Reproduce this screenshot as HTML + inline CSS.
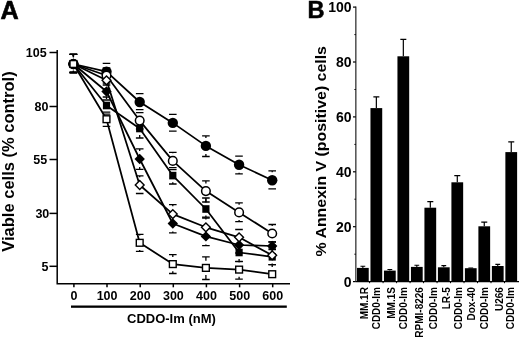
<!DOCTYPE html>
<html><head><meta charset="utf-8"><style>
html,body{margin:0;padding:0;background:#fff;}
body{width:520px;height:340px;overflow:hidden;}
svg{display:block;will-change:transform;filter:blur(0.3px);}
text{font-family:"Liberation Sans", sans-serif;font-weight:bold;fill:#000;}
</style></head><body>
<svg width="520" height="340" viewBox="0 0 520 340">
<g stroke="#000" fill="none">
<path d="M69.6 54.4h7.6M73.4 54.4V56.0M69.6 72.5h7.6M73.4 72.0V72.5" stroke-width="1.3"/>
<path d="M102.7 63.4h7.6M106.5 63.4V63.7M102.7 80.0h7.6" stroke-width="1.3"/>
<path d="M135.9 93.6h7.6M139.7 93.6V94.0M135.9 109.7h7.6" stroke-width="1.3"/>
<path d="M169.0 114.4h7.6M172.8 114.4V114.9M169.0 131.1h7.6" stroke-width="1.3"/>
<path d="M202.1 135.8h7.6M205.9 135.8V137.9M202.1 156.5h7.6M205.9 153.9V156.5" stroke-width="1.3"/>
<path d="M235.2 156.2h7.6M239.1 156.2V156.7M235.2 173.8h7.6M239.1 172.7V173.8" stroke-width="1.3"/>
<path d="M268.4 170.9h7.6M272.2 170.9V172.2M268.4 188.8h7.6M272.2 188.2V188.8" stroke-width="1.3"/>
<path d="M69.6 54.4h7.6M73.4 54.4V57.4M69.6 72.5h7.6M73.4 70.6V72.5" stroke-width="1.3"/>
<path d="M102.7 97.0h7.6M106.5 97.0V98.9M102.7 112.1h7.6" stroke-width="1.3"/>
<path d="M135.9 120.0h7.6M139.7 120.0V121.9M135.9 138.0h7.6M139.7 135.1V138.0" stroke-width="1.3"/>
<path d="M169.0 169.7h7.6M169.0 184.0h7.6M172.8 182.2V184.0" stroke-width="1.3"/>
<path d="M202.1 198.0h7.6M205.9 198.0V202.4M202.1 217.1h7.6M205.9 215.6V217.1" stroke-width="1.3"/>
<path d="M235.2 245.0h7.6M239.1 245.0V245.9M235.2 261.4h7.6M239.1 259.1V261.4" stroke-width="1.3"/>
<path d="M268.4 248.0h7.6M272.2 248.0V250.2M268.4 264.6h7.6M272.2 263.4V264.6" stroke-width="1.3"/>
<path d="M69.6 54.4h7.6M73.4 54.4V56.0M69.6 72.5h7.6M73.4 72.0V72.5" stroke-width="1.3"/>
<path d="M102.7 83.0h7.6M106.5 83.0V83.5M102.7 100.0h7.6M106.5 99.5V100.0" stroke-width="1.3"/>
<path d="M135.9 148.8h7.6M139.7 148.8V151.0M135.9 169.4h7.6M139.7 167.0V169.4" stroke-width="1.3"/>
<path d="M169.0 214.0h7.6M172.8 214.0V215.5M169.0 232.9h7.6M172.8 231.5V232.9" stroke-width="1.3"/>
<path d="M202.1 227.0h7.6M205.9 227.0V228.4M202.1 245.6h7.6M205.9 244.4V245.6" stroke-width="1.3"/>
<path d="M235.2 237.0h7.6M235.2 253.0h7.6" stroke-width="1.3"/>
<path d="M268.4 241.8h7.6M268.4 249.6h7.6" stroke-width="1.3"/>
<path d="M69.6 54.4h7.6M73.4 54.4V56.4M69.6 72.5h7.6M73.4 71.6V72.5" stroke-width="1.3"/>
<path d="M102.7 68.0h7.6M102.7 85.0h7.6M106.5 83.1V85.0" stroke-width="1.3"/>
<path d="M135.9 112.6h7.6M139.7 112.6V113.0M135.9 129.0h7.6M139.7 128.2V129.0" stroke-width="1.3"/>
<path d="M169.0 152.3h7.6M172.8 152.3V153.3M169.0 167.6h7.6" stroke-width="1.3"/>
<path d="M202.1 180.9h7.6M205.9 180.9V183.5M202.1 202.0h7.6M205.9 198.7V202.0" stroke-width="1.3"/>
<path d="M235.2 202.9h7.6M239.1 202.9V204.8M235.2 221.7h7.6M239.1 220.0V221.7" stroke-width="1.3"/>
<path d="M268.4 224.5h7.6M272.2 224.5V225.9M268.4 242.0h7.6M272.2 241.1V242.0" stroke-width="1.3"/>
<path d="M69.6 54.4h7.6M73.4 54.4V56.2M69.6 72.5h7.6M73.4 71.8V72.5" stroke-width="1.3"/>
<path d="M102.7 72.0h7.6M106.5 72.0V72.5M102.7 89.0h7.6M106.5 88.1V89.0" stroke-width="1.3"/>
<path d="M135.9 175.9h7.6M139.7 175.9V177.2M135.9 193.5h7.6M139.7 192.8V193.5" stroke-width="1.3"/>
<path d="M169.0 204.7h7.6M172.8 204.7V206.3M169.0 223.0h7.6M172.8 221.9V223.0" stroke-width="1.3"/>
<path d="M202.1 218.0h7.6M205.9 218.0V219.5M202.1 236.0h7.6M205.9 235.1V236.0" stroke-width="1.3"/>
<path d="M235.2 229.5h7.6M235.2 245.0h7.6" stroke-width="1.3"/>
<path d="M69.6 54.4h7.6M73.4 54.4V56.8M69.6 72.5h7.6M73.4 71.2V72.5" stroke-width="1.3"/>
<path d="M102.7 114.2h7.6M102.7 126.3h7.6" stroke-width="1.3"/>
<path d="M135.9 234.4h7.6M139.7 234.4V235.6M135.9 251.4h7.6M139.7 250.0V251.4" stroke-width="1.3"/>
<path d="M169.0 254.7h7.6M172.8 254.7V256.9M169.0 273.5h7.6M172.8 271.3V273.5" stroke-width="1.3"/>
<path d="M202.1 256.9h7.6M205.9 256.9V260.7M202.1 279.5h7.6M205.9 275.1V279.5" stroke-width="1.3"/>
<path d="M235.2 261.7h7.6M239.1 261.7V262.4M235.2 279.2h7.6M239.1 276.8V279.2" stroke-width="1.3"/>
<path d="M268.4 264.6h7.6M272.2 264.6V267.0" stroke-width="1.3"/>
<polyline points="73.4,64.0 106.5,71.7 139.7,102.0 172.8,122.9 205.9,145.9 239.1,164.7 272.2,180.2" stroke-width="1.75" stroke-linejoin="round"/>
<polyline points="73.4,64.0 106.5,105.5 139.7,128.5 172.8,175.6 205.9,209.0 239.1,252.5 272.2,256.8" stroke-width="1.75" stroke-linejoin="round"/>
<polyline points="73.4,64.0 106.5,91.5 139.7,159.0 172.8,223.5 205.9,236.4 239.1,245.0 272.2,246.0" stroke-width="1.75" stroke-linejoin="round"/>
<polyline points="73.4,64.0 106.5,75.5 139.7,120.6 172.8,160.9 205.9,191.1 239.1,212.4 272.2,233.5" stroke-width="1.75" stroke-linejoin="round"/>
<polyline points="73.4,64.0 106.5,80.3 139.7,185.0 172.8,214.1 205.9,227.3 239.1,237.3 272.2,255.3" stroke-width="1.75" stroke-linejoin="round"/>
<polyline points="73.4,64.0 106.5,119.2 139.7,242.8 172.8,264.1 205.9,267.9 239.1,269.6 272.2,274.2" stroke-width="1.75" stroke-linejoin="round"/>
</g>
<circle cx="73.4" cy="64.0" r="5.2" fill="#000"/>
<circle cx="106.5" cy="71.7" r="5.2" fill="#000"/>
<circle cx="139.7" cy="102.0" r="5.2" fill="#000"/>
<circle cx="172.8" cy="122.9" r="5.2" fill="#000"/>
<circle cx="205.9" cy="145.9" r="5.2" fill="#000"/>
<circle cx="239.1" cy="164.7" r="5.2" fill="#000"/>
<circle cx="272.2" cy="180.2" r="5.2" fill="#000"/>
<rect x="69.8" y="60.2" width="7.2" height="7.6" fill="#000"/>
<rect x="102.9" y="101.7" width="7.2" height="7.6" fill="#000"/>
<rect x="136.1" y="124.7" width="7.2" height="7.6" fill="#000"/>
<rect x="169.2" y="171.8" width="7.2" height="7.6" fill="#000"/>
<rect x="202.3" y="205.2" width="7.2" height="7.6" fill="#000"/>
<rect x="235.5" y="248.7" width="7.2" height="7.6" fill="#000"/>
<rect x="268.6" y="253.0" width="7.2" height="7.6" fill="#000"/>
<path d="M73.4 58.8L78.6 64.0L73.4 69.2L68.2 64.0Z" fill="#000"/>
<path d="M106.5 86.3L111.7 91.5L106.5 96.7L101.3 91.5Z" fill="#000"/>
<path d="M139.7 153.8L144.9 159.0L139.7 164.2L134.5 159.0Z" fill="#000"/>
<path d="M172.8 218.3L178.0 223.5L172.8 228.7L167.6 223.5Z" fill="#000"/>
<path d="M205.9 231.2L211.1 236.4L205.9 241.6L200.7 236.4Z" fill="#000"/>
<path d="M239.1 239.8L244.2 245.0L239.1 250.2L233.9 245.0Z" fill="#000"/>
<path d="M272.2 240.8L277.4 246.0L272.2 251.2L267.0 246.0Z" fill="#000"/>
<circle cx="73.4" cy="64.0" r="4.3" fill="#fff" stroke="#000" stroke-width="1.5"/>
<circle cx="106.5" cy="75.5" r="4.3" fill="#fff" stroke="#000" stroke-width="1.5"/>
<circle cx="139.7" cy="120.6" r="4.3" fill="#fff" stroke="#000" stroke-width="1.5"/>
<circle cx="172.8" cy="160.9" r="4.3" fill="#fff" stroke="#000" stroke-width="1.5"/>
<circle cx="205.9" cy="191.1" r="4.3" fill="#fff" stroke="#000" stroke-width="1.5"/>
<circle cx="239.1" cy="212.4" r="4.3" fill="#fff" stroke="#000" stroke-width="1.5"/>
<circle cx="272.2" cy="233.5" r="4.3" fill="#fff" stroke="#000" stroke-width="1.5"/>
<path d="M73.4 59.6L77.8 64.0L73.4 68.4L69.0 64.0Z" fill="#fff" stroke="#000" stroke-width="1.4"/>
<path d="M106.5 75.9L110.9 80.3L106.5 84.7L102.1 80.3Z" fill="#fff" stroke="#000" stroke-width="1.4"/>
<path d="M139.7 180.6L144.1 185.0L139.7 189.4L135.3 185.0Z" fill="#fff" stroke="#000" stroke-width="1.4"/>
<path d="M172.8 209.7L177.2 214.1L172.8 218.5L168.4 214.1Z" fill="#fff" stroke="#000" stroke-width="1.4"/>
<path d="M205.9 222.9L210.3 227.3L205.9 231.7L201.5 227.3Z" fill="#fff" stroke="#000" stroke-width="1.4"/>
<path d="M239.1 232.9L243.5 237.3L239.1 241.7L234.7 237.3Z" fill="#fff" stroke="#000" stroke-width="1.4"/>
<path d="M272.2 250.9L276.6 255.3L272.2 259.7L267.8 255.3Z" fill="#fff" stroke="#000" stroke-width="1.4"/>
<rect x="70.0" y="60.6" width="6.8" height="6.8" fill="#fff" stroke="#000" stroke-width="1.4"/>
<rect x="103.1" y="115.8" width="6.8" height="6.8" fill="#fff" stroke="#000" stroke-width="1.4"/>
<rect x="136.3" y="239.4" width="6.8" height="6.8" fill="#fff" stroke="#000" stroke-width="1.4"/>
<rect x="169.4" y="260.7" width="6.8" height="6.8" fill="#fff" stroke="#000" stroke-width="1.4"/>
<rect x="202.5" y="264.5" width="6.8" height="6.8" fill="#fff" stroke="#000" stroke-width="1.4"/>
<rect x="235.7" y="266.2" width="6.8" height="6.8" fill="#fff" stroke="#000" stroke-width="1.4"/>
<rect x="268.8" y="270.8" width="6.8" height="6.8" fill="#fff" stroke="#000" stroke-width="1.4"/>
<g stroke="#000" stroke-width="1.5" fill="none">
<path d="M57.2 50V283.8H290"/>
<path d="M49.5 52.5H57.2"/>
<path d="M49.5 106.5H57.2"/>
<path d="M49.5 159.5H57.2"/>
<path d="M49.5 213.4H57.2"/>
<path d="M49.5 266.3H57.2"/>
<path d="M73.9 283.8V287.3"/>
<path d="M107.0 283.8V287.3"/>
<path d="M140.2 283.8V287.3"/>
<path d="M173.3 283.8V287.3"/>
<path d="M206.4 283.8V287.3"/>
<path d="M239.6 283.8V287.3"/>
<path d="M272.7 283.8V287.3"/>
</g>
<rect x="71" y="305.5" width="215.8" height="2.3" fill="#000"/>
<g>
<path d="M355.8 6.5V281.6" stroke="#5a5a5a" stroke-width="1.6"/>
<path d="M353 281.6H355.8" stroke="#000" stroke-width="1.2"/>
<path d="M353 226.7H355.8" stroke="#000" stroke-width="1.2"/>
<path d="M353 171.8H355.8" stroke="#000" stroke-width="1.2"/>
<path d="M353 116.9H355.8" stroke="#000" stroke-width="1.2"/>
<path d="M353 62.0H355.8" stroke="#000" stroke-width="1.2"/>
<path d="M353 7.1H355.8" stroke="#000" stroke-width="1.2"/>
<path d="M354.4 254.2H355.8" stroke="#000" stroke-width="1"/>
<path d="M354.4 199.2H355.8" stroke="#000" stroke-width="1"/>
<path d="M354.4 144.4H355.8" stroke="#000" stroke-width="1"/>
<path d="M354.4 89.5H355.8" stroke="#000" stroke-width="1"/>
<path d="M354.4 34.6H355.8" stroke="#000" stroke-width="1"/>
<path d="M355.8 281.6H519" stroke="#000" stroke-width="1.2"/>
<rect x="356.98" y="267.9" width="11.75" height="13.7" fill="#000"/>
<path d="M362.86 267.9V266.3M360.46 266.3h4.8" stroke="#000" stroke-width="1.1"/>
<path d="M369.60 281.6v1.6" stroke="#000" stroke-width="1"/>
<rect x="370.47" y="108.1" width="11.75" height="173.5" fill="#000"/>
<path d="M376.35 108.1V96.8M373.35 96.8h6" stroke="#000" stroke-width="1.2"/>
<path d="M383.09 281.6v1.6" stroke="#000" stroke-width="1"/>
<rect x="383.96" y="270.6" width="11.75" height="11.0" fill="#000"/>
<path d="M389.84 270.6V269.5M387.44 269.5h4.8" stroke="#000" stroke-width="1.1"/>
<path d="M396.58 281.6v1.6" stroke="#000" stroke-width="1"/>
<rect x="397.45" y="56.3" width="11.75" height="225.3" fill="#000"/>
<path d="M403.33 56.3V39.4M400.33 39.4h6" stroke="#000" stroke-width="1.2"/>
<path d="M410.07 281.6v1.6" stroke="#000" stroke-width="1"/>
<rect x="410.94" y="266.9" width="11.75" height="14.7" fill="#000"/>
<path d="M416.81 266.9V265.3M414.42 265.3h4.8" stroke="#000" stroke-width="1.1"/>
<path d="M423.56 281.6v1.6" stroke="#000" stroke-width="1"/>
<rect x="424.43" y="207.7" width="11.75" height="73.9" fill="#000"/>
<path d="M430.31 207.7V201.7M427.31 201.7h6" stroke="#000" stroke-width="1.2"/>
<path d="M437.05 281.6v1.6" stroke="#000" stroke-width="1"/>
<rect x="437.92" y="267.3" width="11.75" height="14.3" fill="#000"/>
<path d="M443.80 267.3V265.6M441.40 265.6h4.8" stroke="#000" stroke-width="1.1"/>
<path d="M450.54 281.6v1.6" stroke="#000" stroke-width="1"/>
<rect x="451.41" y="182.3" width="11.75" height="99.3" fill="#000"/>
<path d="M457.29 182.3V175.7M454.29 175.7h6" stroke="#000" stroke-width="1.2"/>
<path d="M464.03 281.6v1.6" stroke="#000" stroke-width="1"/>
<rect x="464.90" y="268.2" width="11.75" height="13.4" fill="#000"/>
<path d="M470.78 268.2V268.0M468.38 268.0h4.8" stroke="#000" stroke-width="1.1"/>
<path d="M477.52 281.6v1.6" stroke="#000" stroke-width="1"/>
<rect x="478.39" y="226.3" width="11.75" height="55.3" fill="#000"/>
<path d="M484.26 226.3V222.2M481.26 222.2h6" stroke="#000" stroke-width="1.2"/>
<path d="M491.01 281.6v1.6" stroke="#000" stroke-width="1"/>
<rect x="491.88" y="266" width="11.75" height="15.6" fill="#000"/>
<path d="M497.75 266V264.4M495.36 264.4h4.8" stroke="#000" stroke-width="1.1"/>
<path d="M504.50 281.6v1.6" stroke="#000" stroke-width="1"/>
<rect x="505.37" y="152.1" width="11.75" height="129.5" fill="#000"/>
<path d="M511.25 152.1V141.9M508.25 141.9h6" stroke="#000" stroke-width="1.2"/>
</g>
<text x="0.6" y="18.6" font-size="25.2" text-anchor="start" stroke="#000" stroke-width="0.6">A</text>
<text x="46.6" y="56.7" font-size="12.5" text-anchor="end" >105</text>
<text x="48.4" y="110.8" font-size="12.5" text-anchor="end" >80</text>
<text x="47.1" y="163.8" font-size="12.5" text-anchor="end" >55</text>
<text x="49.3" y="217.6" font-size="12.5" text-anchor="end" >30</text>
<text x="48.4" y="270.6" font-size="12.5" text-anchor="end" >5</text>
<text x="74.0" y="300" font-size="12.5" text-anchor="middle" >0</text>
<text x="107.1" y="300" font-size="12.5" text-anchor="middle" >100</text>
<text x="140.3" y="300" font-size="12.5" text-anchor="middle" >200</text>
<text x="173.4" y="300" font-size="12.5" text-anchor="middle" >300</text>
<text x="206.5" y="300" font-size="12.5" text-anchor="middle" >400</text>
<text x="239.7" y="300" font-size="12.5" text-anchor="middle" >500</text>
<text x="272.8" y="300" font-size="12.5" text-anchor="middle" >600</text>
<text x="127" y="322.8" font-size="13" text-anchor="start" >CDDO-Im (nM)</text>
<text transform="translate(13.6,161.5) rotate(-90)" font-size="16.5" text-anchor="middle">Viable cells (% control)</text>
<text x="351.6" y="286.9" font-size="14" text-anchor="end" >0</text>
<text x="351.6" y="232.0" font-size="14" text-anchor="end" >20</text>
<text x="351.6" y="177.1" font-size="14" text-anchor="end" >40</text>
<text x="351.6" y="122.2" font-size="14" text-anchor="end" >60</text>
<text x="351.6" y="67.3" font-size="14" text-anchor="end" >80</text>
<text x="351.6" y="12.4" font-size="14" text-anchor="end" >100</text>
<text transform="translate(367.60,287.1) rotate(-90)" font-size="10" text-anchor="end">MM.1R</text>
<text transform="translate(379.80,287.1) rotate(-90)" font-size="10" text-anchor="end">CDD0-Im</text>
<text transform="translate(394.50,287.1) rotate(-90)" font-size="10" text-anchor="end">MM.1S</text>
<text transform="translate(407.30,287.1) rotate(-90)" font-size="10" text-anchor="end">CDD0-Im</text>
<text transform="translate(423.10,287.1) rotate(-90)" font-size="10" text-anchor="end">RPMI-8226</text>
<text transform="translate(437.30,287.1) rotate(-90)" font-size="10" text-anchor="end">CDD0-Im</text>
<text transform="translate(449.60,287.1) rotate(-90)" font-size="10" text-anchor="end">LR-5</text>
<text transform="translate(461.70,287.1) rotate(-90)" font-size="10" text-anchor="end">CDD0-Im</text>
<text transform="translate(474.90,287.1) rotate(-90)" font-size="10" text-anchor="end">Dox-40</text>
<text transform="translate(488.10,287.1) rotate(-90)" font-size="10" text-anchor="end">CDD0-Im</text>
<text transform="translate(502.70,287.1) rotate(-90)" font-size="10" text-anchor="end">U266</text>
<text transform="translate(514.40,287.1) rotate(-90)" font-size="10" text-anchor="end">CDD0-Im</text>
<text x="307.6" y="18.0" font-size="23.6" text-anchor="start" stroke="#000" stroke-width="0.5">B</text>
<text transform="translate(326,151.3) rotate(-90)" font-size="15" text-anchor="middle" textLength="210.5" lengthAdjust="spacingAndGlyphs">% Annexin V (positive) cells</text>
</svg>
</body></html>
